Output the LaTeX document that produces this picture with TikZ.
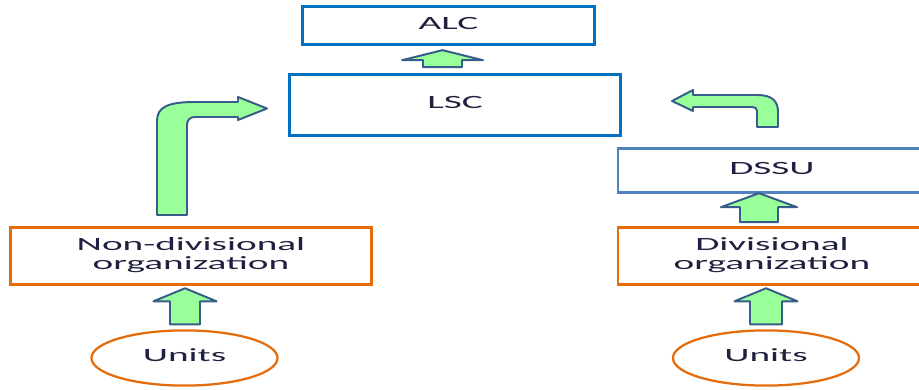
\documentclass[tikz,border=0pt]{standalone}
\usepackage{fontspec}
\setmainfont{Carlito}
\usepackage{tikz}
\usetikzlibrary{calc,shapes.geometric}

\definecolor{boxblue}{RGB}{0,112,192}
\definecolor{paleblue}{RGB}{79,129,189}
\definecolor{boxorange}{RGB}{228,108,10}
\definecolor{arrowfill}{RGB}{153,255,153}
\definecolor{arrowline}{RGB}{56,93,138}
\definecolor{textdark}{RGB}{32,32,64}

\newcommand{\widetext}[1]{\scalebox{2.1}[1]{\begin{tabular}{@{}c@{}}#1\end{tabular}}}
\newcommand{\blockup}[5]{\draw[blockarrow] #1 ++(-#4,0) -- ++(0,{#2-#3}) -- ++({#4-#5},0) -- ++(#5,#3) -- ++(#5,-#3) -- ++({#4-#5},0) -- ++(0,{#3-#2}) -- cycle;}

\begin{document}
\begin{tikzpicture}[x=0.025cm, y=0.025cm,
    every node/.style={inner sep=0pt, text=textdark, font=\fontsize{13.3}{14.2}\selectfont},
    bluebox/.style={draw=boxblue, line width=2pt, rectangle},
    lightbox/.style={draw=paleblue, line width=1.5pt, rectangle},
    orangebox/.style={draw=boxorange, line width=2pt, rectangle},
    unitsoval/.style={draw=boxorange, line width=1.6pt, ellipse, minimum width=4.65cm, minimum height=1.38cm},
    blockarrow/.style={fill=arrowfill, draw=arrowline, line width=1.4pt, line join=round}]
    \clip (0, 0) rectangle (919, 389);

    \node[bluebox, minimum width=7.3cm, minimum height=0.95cm] (alc) at (448.5, 363.5) {\widetext{ALC}};
    \node[bluebox, minimum width=8.27cm, minimum height=1.52cm] (lsc) at (455, 284) {\widetext{LSC}};
    \node[lightbox, minimum width=7.7cm, minimum height=1.1cm] (dssu) at (772, 218.5) {\widetext{DSSU}};
    \node[orangebox, minimum width=7.7cm, minimum height=1.42cm] (divorg) at (772, 133) {\widetext{Divisional\\organization}};
    \node[orangebox, minimum width=9.03cm, minimum height=1.42cm] (nondiv) at (191, 133) {\widetext{Non-divisional\\organization}};
    \node[unitsoval] (units1) at (184.5, 31) {\widetext{Units}};
    \node[unitsoval] (units2) at (766, 31) {\widetext{Units}};

    \blockup{($(units1.north)+(0.5,5)$)}{36}{13}{15}{31.5}
    \blockup{($(units2.north)+(0,5)$)}{36}{13}{16}{31.5}
    \blockup{($(divorg.north)+(-13,4)$)}{29}{14}{19}{38}
    \blockup{($(lsc.north)+(-12.5,6)$)}{17}{10}{19.5}{40.5}

    \draw[blockarrow] (157, 174) -- (157, 268) .. controls (157, 282) and (168, 287) .. (195, 287)
        -- (238, 287) -- (238, 292) -- (267, 280.5) -- (238, 269) -- (238, 272) -- (195, 272)
        .. controls (190, 272) and (187, 269) .. (187, 264) -- (187, 174) -- cycle;
    \draw[blockarrow] (778, 262) -- (778, 277) .. controls (778, 288) and (772, 294) .. (757, 294)
        -- (693, 294) -- (693, 299) -- (672, 288) -- (693, 278) -- (693, 282) -- (752, 282)
        .. controls (755, 282) and (757, 281) .. (757, 278) -- (757, 262) -- cycle;
\end{tikzpicture}
\end{document}
